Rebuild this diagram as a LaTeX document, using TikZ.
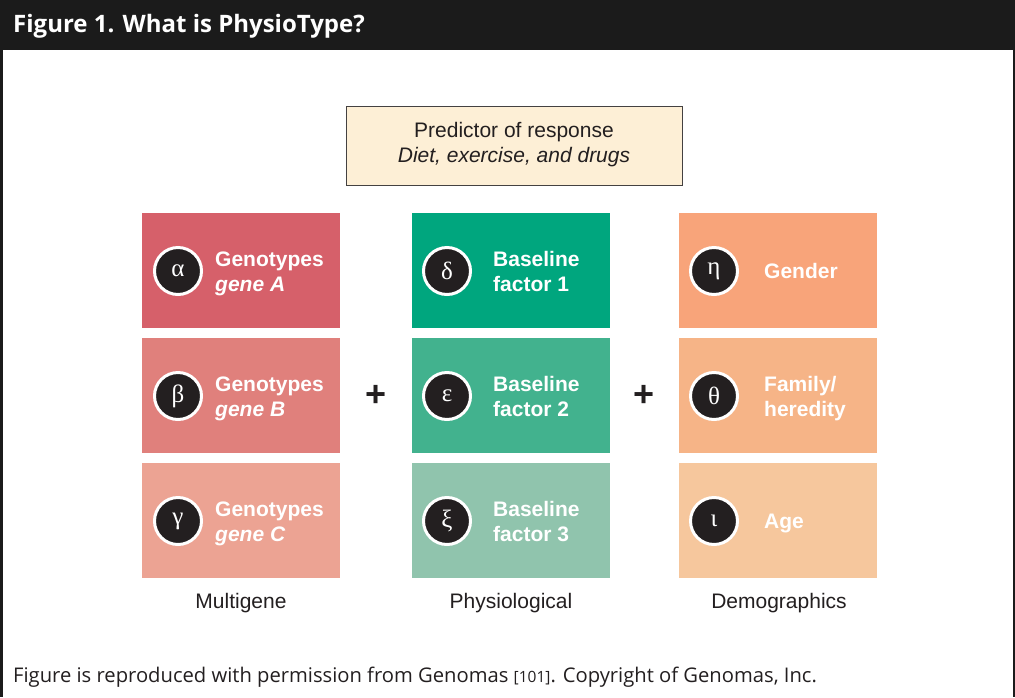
\documentclass[tikz,border=0pt]{standalone}
\usepackage{fontspec}
\setmainfont{Liberation Sans}
\newfontfamily\titlefont{Open Sans}
\newfontfamily\greekfont{Liberation Serif}
\definecolor{hdr}{HTML}{1B1B1B}
\definecolor{cream}{HTML}{FDEFD6}
\definecolor{rA}{HTML}{D6606A}
\definecolor{rB}{HTML}{E0807C}
\definecolor{rC}{HTML}{ECA393}
\definecolor{gA}{HTML}{00A67E}
\definecolor{gB}{HTML}{42B28E}
\definecolor{gC}{HTML}{90C4AD}
\definecolor{oA}{HTML}{F8A47A}
\definecolor{oB}{HTML}{F6B487}
\definecolor{oC}{HTML}{F6C79D}
\definecolor{ink}{HTML}{231F20}
\definecolor{txt}{HTML}{231F20}
\tikzset{
  tile/.style={rectangle, inner sep=0pt, minimum width=198pt, minimum height=115pt, anchor=north west},
  badge/.style={circle, fill=ink, draw=white, line width=3pt, minimum size=47pt, inner sep=0pt, text=white, font=\greekfont\fontsize{25}{28}\selectfont},
  tiletext/.style={anchor=base west, inner sep=0pt, text=white, font=\bfseries\fontsize{21}{24}\selectfont},
  tileital/.style={anchor=base west, inner sep=0pt, text=white, font=\bfseries\itshape\fontsize{21}{24}\selectfont},
  plain/.style={inner sep=0pt, text=txt, font=\fontsize{21}{24}\selectfont},
  plus/.style={inner sep=0pt, text=txt, font=\bfseries\fontsize{36}{40}\selectfont},
}
\begin{document}
\begin{tikzpicture}[x=1pt,y=-1pt]
\useasboundingbox (0,0) rectangle (1015,697);
\fill[white] (0,0) rectangle (1015,697);
% header
\fill[hdr] (0,0) rectangle (1015,50);
\node[anchor=base west, inner sep=0pt, text=white, font=\titlefont\bfseries\fontsize{24}{28}\selectfont] (title) at (13,32) {Figure 1. What is PhysioType?};
% frame
\fill[hdr] (0,0) rectangle (2.5,697);
\fill[hdr] (1013,0) rectangle (1015,697);
% top box
\node[rectangle, draw=txt!85, line width=1pt, fill=cream, minimum width=336pt, minimum height=79pt, anchor=north west, inner sep=0pt] (pred) at (346,106) {};
\node[plain, anchor=base] (pred1) at (514,137) {Predictor of response};
\node[plain, anchor=base, font=\itshape\fontsize{21}{24}\selectfont] (pred2) at (514,162) {Diet, exercise, and drugs};
% tiles
\node[tile, fill=rA] (t11) at (142,213) {};
\node[tile, fill=rB] (t12) at (142,338) {};
\node[tile, fill=rC] (t13) at (142,463) {};
\node[tile, fill=gA] (t21) at (412,213) {};
\node[tile, fill=gB] (t22) at (412,338) {};
\node[tile, fill=gC] (t23) at (412,463) {};
\node[tile, fill=oA] (t31) at (679,213) {};
\node[tile, fill=oB] (t32) at (679,338) {};
\node[tile, fill=oC] (t33) at (679,463) {};
% badges
\node[badge] (b11) at (178,271) {α};
\node[badge] (b12) at (178,396) {β};
\node[badge] (b13) at (178,521) {γ};
\node[badge] (b21) at (447,271) {δ};
\node[badge] (b22) at (447,396) {ε};
\node[badge] (b23) at (447,521) {ξ};
\node[badge] (b31) at (714,271) {η};
\node[badge] (b32) at (714,396) {θ};
\node[badge] (b33) at (714,521) {ι};
% tile texts
\node[tiletext] (x11a) at (215,266) {Genotypes};
\node[tileital] (x11b) at (215,291) {gene A};
\node[tiletext] (x12a) at (215,391) {Genotypes};
\node[tileital] (x12b) at (215,416) {gene B};
\node[tiletext] (x13a) at (215,516) {Genotypes};
\node[tileital] (x13b) at (215,541) {gene C};
\node[tiletext] (x21a) at (493,266) {Baseline};
\node[tiletext] (x21b) at (493,291) {factor 1};
\node[tiletext] (x22a) at (493,391) {Baseline};
\node[tiletext] (x22b) at (493,416) {factor 2};
\node[tiletext] (x23a) at (493,516) {Baseline};
\node[tiletext] (x23b) at (493,541) {factor 3};
\node[tiletext] (x31a) at (764,278) {Gender};
\node[tiletext] (x32a) at (764,391) {Family/};
\node[tiletext] (x32b) at (764,416) {heredity};
\node[tiletext] (x33a) at (764,528) {Age};
% plus signs
\node[plus] (p1) at (376,396) {+};
\node[plus] (p2) at (644,396) {+};
% column labels
\node[plain, anchor=base] (l1) at (241,608) {Multigene};
\node[plain, anchor=base] (l2) at (511,608) {Physiological};
\node[plain, anchor=base] (l3) at (779,608) {Demographics};
% footer
\node[anchor=base west, inner sep=0pt, text=txt, font=\titlefont\fontsize{20.2}{23}\selectfont] (foot) at (13,682) {Figure is reproduced with permission from Genomas {\fontsize{15.5}{18}\selectfont[101]}. Copyright of Genomas, Inc.};
\end{tikzpicture}
\end{document}
